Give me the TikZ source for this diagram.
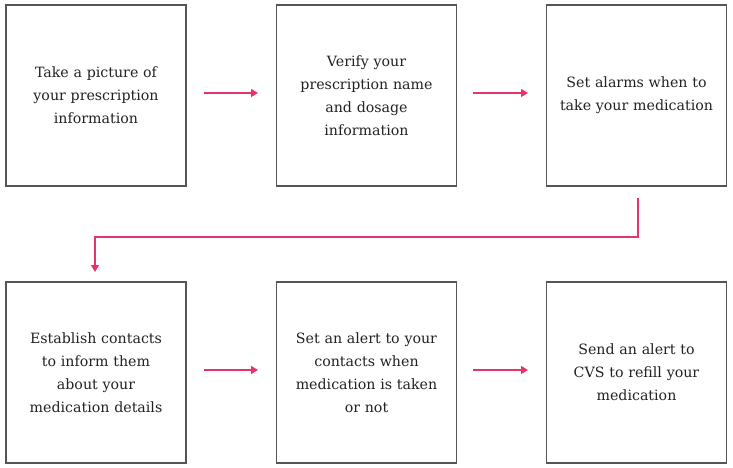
\documentclass[tikz,border=0pt]{standalone}
\usepackage{fontspec}
\setmainfont{DejaVu Serif}
\usetikzlibrary{arrows.meta}
\definecolor{linkpink}{RGB}{232,51,106}
\definecolor{boxgray}{RGB}{85,85,85}
\definecolor{txt}{RGB}{34,34,34}
\tikzset{
  stepbox/.style={draw=boxgray, line width=1.5pt, minimum width=180pt, minimum height=181pt,
    text width=170pt, align=center, inner sep=0pt, text=txt,
    font=\fontsize{14.2}{23}\selectfont},
  flow/.style={draw=linkpink, line width=1.3pt, -{Triangle[length=7pt,width=8pt]}}
}
\begin{document}
\begin{tikzpicture}[x=1pt,y=-1pt]
\useasboundingbox (0,0) rectangle (733,468);
\node[stepbox] (b1) at (96,95.5) {Take a picture of\\your prescription\\information};
\node[stepbox] (b2) at (366.5,95.5) {Verify your\\prescription name\\and dosage\\information};
\node[stepbox] (b3) at (636.5,95.5) {Set alarms when to\\take your medication};
\node[stepbox] (b4) at (96,372.5) {Establish contacts\\to inform them\\about your\\medication details};
\node[stepbox] (b5) at (366.5,372.5) {Set an alert to your\\contacts when\\medication is taken\\or not};
\node[stepbox] (b6) at (636.5,372.5) {Send an alert to\\CVS to refill your\\medication};
\coordinate (a1s) at (204,93); \coordinate (a1e) at (258,93);
\coordinate (a2s) at (473,93); \coordinate (a2e) at (528,93);
\coordinate (a3s) at (204,370); \coordinate (a3e) at (258,370);
\coordinate (a4s) at (473,370); \coordinate (a4e) at (528,370);
\coordinate (cs) at (638,198); \coordinate (ce) at (95,272);
\draw[flow] (a1s) -- (a1e);
\draw[flow] (a2s) -- (a2e);
\draw[flow] (a3s) -- (a3e);
\draw[flow] (a4s) -- (a4e);
\draw[flow] (cs) -- (638,237) -- (95,237) -- (ce);
\end{tikzpicture}
\end{document}
